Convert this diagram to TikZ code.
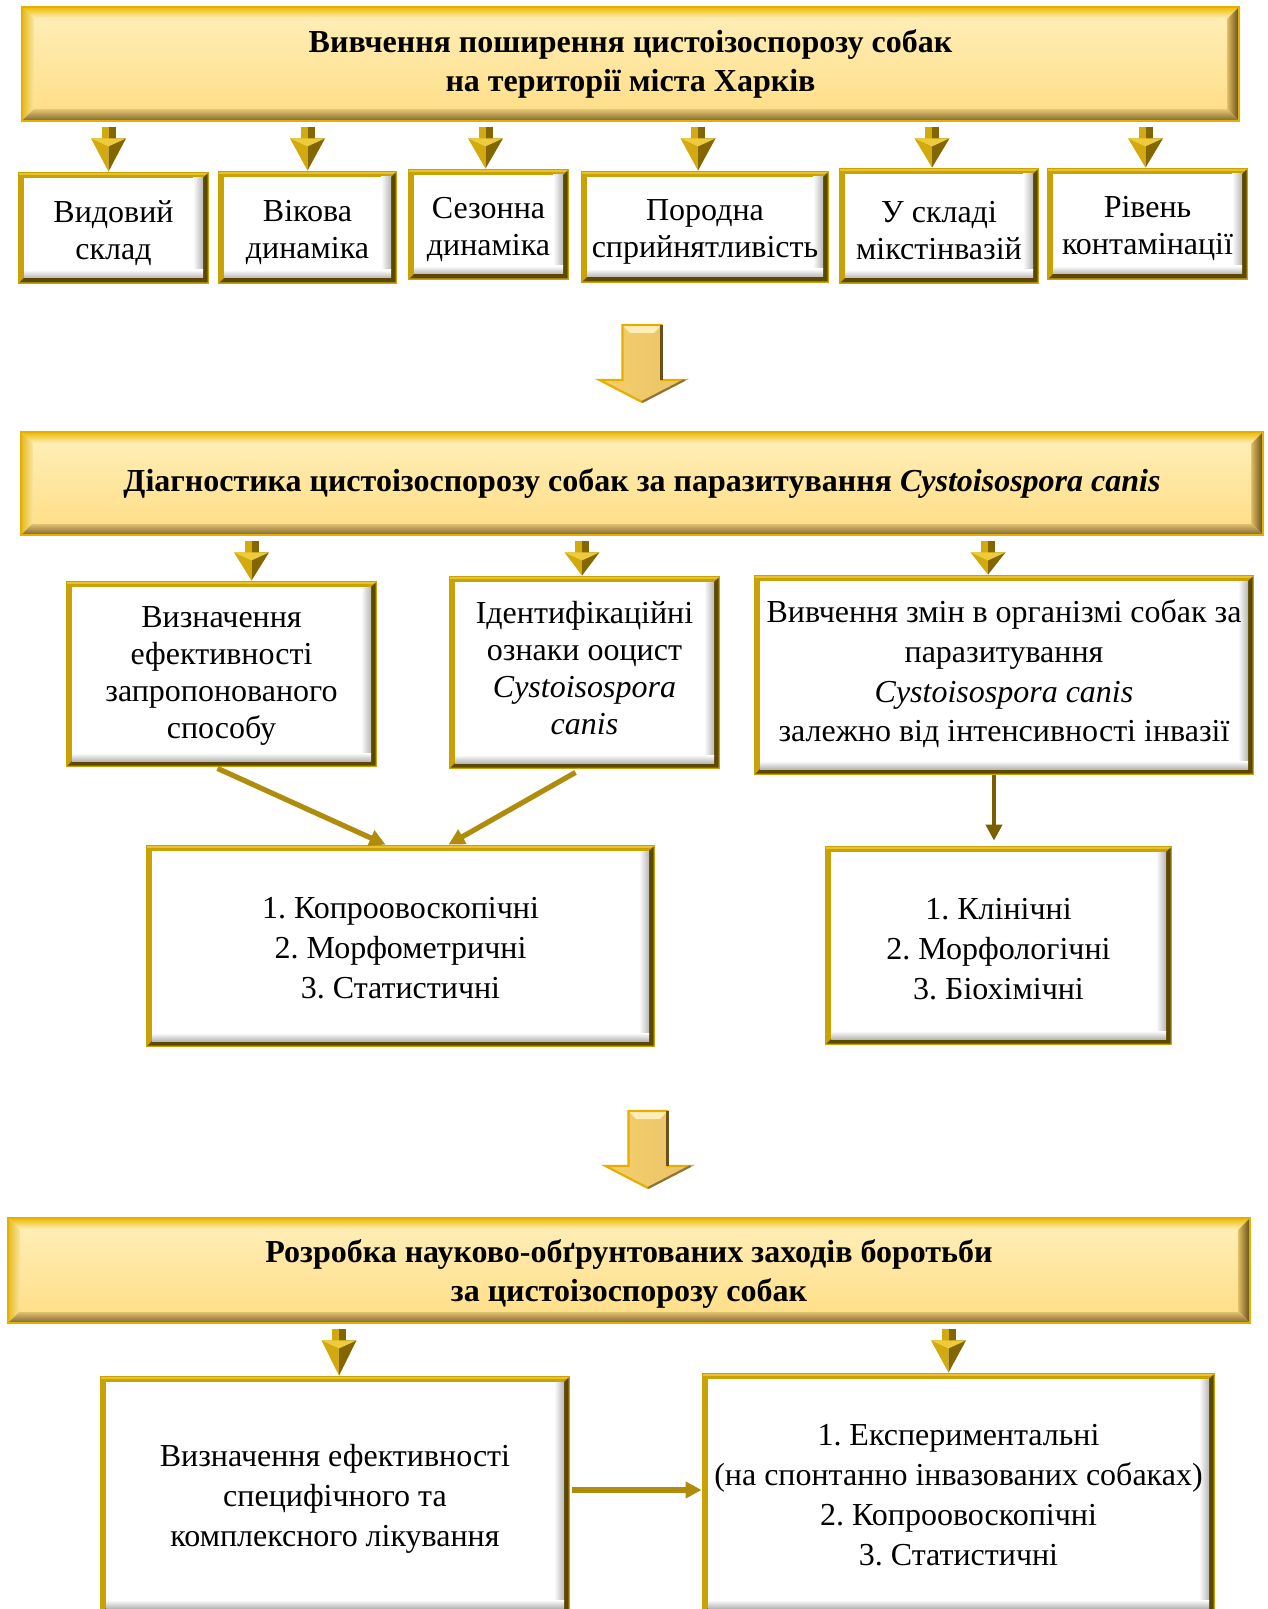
\documentclass[tikz,border=0pt]{standalone}
\usepackage{fontspec}
\setmainfont{Liberation Serif}
\usetikzlibrary{calc,fit,arrows.meta}
% frame colours
\definecolor{gA}{HTML}{C9A206}
\definecolor{gD}{HTML}{5E4800}
\definecolor{gL}{HTML}{E8C22A}
% banner colours
\definecolor{bnTopA}{HTML}{EDBA00}
\definecolor{bnTopB}{HTML}{FFF2C8}
\definecolor{bnLA}{HTML}{E6B81C}
\definecolor{bnLB}{HTML}{FBE6A2}
\definecolor{bnRA}{HTML}{5F4A18}
\definecolor{bnRB}{HTML}{E2BE62}
\definecolor{bnBA}{HTML}{7E6530}
\definecolor{bnBB}{HTML}{E7C877}
\definecolor{bnFA}{HTML}{FFEDB4}
\definecolor{bnFB}{HTML}{FFDF8A}
\definecolor{bnEdge}{HTML}{E3B000}
% small arrows
\definecolor{gaL}{HTML}{D2AA10}
\definecolor{gaD}{HTML}{846600}
\definecolor{gaH}{HTML}{EDCB3A}
% hollow arrows
\definecolor{haL}{HTML}{F6CF6A}
\definecolor{haM}{HTML}{FFEDBC}
\definecolor{haR}{HTML}{E9C36A}
\definecolor{haEdge}{HTML}{E5AE00}
\definecolor{haDark}{HTML}{6B5018}
% connectors
\definecolor{gC}{HTML}{B08C0C}
\definecolor{gCd}{HTML}{7A5E00}
\def\bskip{19.5}
\tikzset{
  wtext/.style={inner sep=0pt, align=center, font=\fontsize{16}{\bskip}\selectfont},
  btext/.style={inner sep=0pt, align=center, font=\fontsize{16}{19.5}\selectfont\bfseries},
  frame/.style={inner sep=0pt},
  conn/.style={draw=gC, line width=2.6pt, -{Triangle[length=8pt,width=8pt]}},
  connd/.style={draw=gCd, line width=2.4pt, -{Triangle[length=8pt,width=8pt]}},
}
% white box with bevelled gold frame: name, x1, y1, x2, y2, text shift, text
\newcommand\wbox[7]{%
  \fill[gA] (#2,#3) rectangle (#4,#5);
  \fill[gL] (#2+1,#3+1) rectangle (#4-1,#3+3);
  \fill[gD] (#4-1.5,#3+1.5) -- (#4-1.5,#5-1.5) -- (#2+1.5,#5-1.5) -- (#2+6,#5-6) -- (#4-6,#5-6) -- (#4-6,#3+6) -- cycle;
  \fill[white] (#2+6,#3+6) rectangle (#4-6,#5-6);
  \shade[left color=white, right color=black!28] (#4-16,#3+6) rectangle (#4-6,#5-14);
  \shade[top color=white, bottom color=black!28] (#2+6,#5-14) rectangle (#4-6,#5-6);
  \node[frame, fit={(#2,#3) (#4,#5)}] (#1) {};
  \node[wtext] (#1-t) at ($(#1.center)+(0,#6)$) {#7};
}
% yellow bevelled banner: name, x1, y1, x2, y2, text shift, text
\newcommand\banner[7]{%
  \fill[bnFB] (#2,#3) rectangle (#4,#5);
  \shade[top color=bnTopA, bottom color=bnTopB] (#2,#3) -- (#4,#3) -- (#4-12,#3+12) -- (#2+12,#3+12) -- cycle;
  \shade[left color=bnLA, right color=bnLB] (#2,#3) -- (#2+12,#3+12) -- (#2+12,#5-12) -- (#2,#5) -- cycle;
  \shade[left color=bnRB, right color=bnRA] (#4,#3) -- (#4,#5) -- (#4-12,#5-12) -- (#4-12,#3+12) -- cycle;
  \shade[top color=bnBB, bottom color=bnBA] (#2,#5) -- (#4,#5) -- (#4-12,#5-12) -- (#2+12,#5-12) -- cycle;
  \shade[top color=bnFA, bottom color=bnFB] (#2+12,#3+12) rectangle (#4-12,#5-12);
  \draw[bnEdge, line width=0.8pt] (#2,#3) rectangle (#4,#5);
  \node[frame, fit={(#2,#3) (#4,#5)}] (#1) {};
  \node[btext] (#1-t) at ($(#1.center)+(0,#6)$) {#7};
}
% small gold 3D arrow: target node, x offset, source node
\newcommand\garrow[3]{%
  \coordinate (ga-e) at ($(#1.north)+(#2,0)$);
  \path (ga-e |- #3.south) coordinate (ga-t);
  \coordinate (ga-s) at ($(ga-t)+(0,6)$);
  \fill[gaL] ($(ga-s)+(-7,0)$) rectangle ($(ga-s)+(0,12)$);
  \fill[gaD] (ga-s) rectangle ($(ga-s)+(7,12)$);
  \fill[gaL] ($(ga-s)+(-17.5,11)$) -- ($(ga-s)+(0,11)$) -- (ga-e) -- cycle;
  \fill[gaD] ($(ga-s)+(0,11)$) -- ($(ga-s)+(17.5,11)$) -- (ga-e) -- cycle;
  \fill[gaH] ($(ga-s)+(-17.5,11)$) -- ($(ga-s)+(17.5,11)$) -- ($(ga-s)+(0,19)$) -- cycle;
}
% large hollow arrow: name, x, y (top centre)
\newcommand\bigarrow[3]{%
  \coordinate (#1) at (#2,#3);
  \begin{scope}[shift={(#1)}]
    \shade[left color=haL, middle color=haM, right color=haR]
      (-19.5,0) -- (19.5,0) -- (19.5,55) -- (42.5,55) -- (0,77) -- (-42.5,55) -- (-19.5,55) -- cycle;
    \fill[haM] (-19.5,0) -- (19.5,0) -- (12,8) -- (-12,8) -- cycle;
    \draw[haEdge, line width=1.1pt, line join=miter]
      (-19.5,0) -- (19.5,0) -- (19.5,55) -- (42.5,55) -- (0,77) -- (-42.5,55) -- (-19.5,55) -- cycle;
    \draw[haDark, line width=1.2pt] (19.5,0) -- (19.5,55);
    \draw[haDark!80, line width=1pt] (42.5,55) -- (0,77);
  \end{scope}
}
\begin{document}
\frenchspacing
\begin{tikzpicture}[x=0.5pt,y=-0.5pt]
\useasboundingbox (0,0) rectangle (1267,1609);
\fill[white] (0,0) rectangle (1267,1609);
\clip (0,0) rectangle (1267,1609);

% ---------- section 1 ----------
\banner{ban1}{22}{7}{1239}{121}{0}{Вивчення поширення цистоізоспорозу собак\\на території міста Харків}
\def\bskip{18.5}
\wbox{s1}{18}{172}{209}{284}{5}{Видовий\\склад}
\wbox{s2}{218}{171}{397}{284}{5}{Вікова\\динаміка}
\wbox{s3}{408}{169}{569}{280}{5}{Сезонна\\динаміка}
\wbox{s4}{581}{171}{829}{283}{5}{Породна\\сприйнятливість}
\wbox{s5}{839}{168}{1039}{284}{5}{У складі\\мікстінвазій}
\wbox{s6}{1047}{168}{1248}{280}{5}{Рівень\\контамінації}
\garrow{s1}{-5}{ban1}
\garrow{s2}{0}{ban1}
\garrow{s3}{-3}{ban1}
\garrow{s4}{-7}{ban1}
\garrow{s5}{-7}{ban1}
\garrow{s6}{-2}{ban1}

\bigarrow{bigA}{642}{325}

% ---------- section 2 ----------
\banner{ban2}{21}{432}{1263}{535}{0}{Діагностика цистоізоспорозу собак за паразитування \textit{Cystoisospora canis}}
\wbox{mA}{66}{581}{377}{767}{2}{Визначення\\ефективності\\запропонованого\\способу}
\wbox{mB}{449}{576}{720}{769}{-4}{Ідентифікаційні\\ознаки ооцист\\\textit{Cystoisospora}\\\textit{canis}}
\def\bskip{19.8}
\wbox{mC}{754}{575}{1254}{775}{-1}{Вивчення змін в організмі собак за\\паразитування\\\textit{Cystoisospora canis}\\залежно від інтенсивності інвазії}
\garrow{mA}{30}{ban2}
\garrow{mB}{-2.5}{ban2}
\garrow{mC}{-16}{ban2}

\def\bskip{20}
\wbox{mD}{146}{845}{655}{1047}{2}{1. Копроовоскопічні\\2. Морфометричні\\3. Статистичні}
\wbox{mE}{825}{846}{1172}{1045}{3.5}{1. Клінічні\\2. Морфологічні\\3. Біохімічні}

\draw[conn] ($(mA.south)+(-4,1)$) -- ($(mD.north)+(-15,0)$);
\draw[conn] ($(mB.south)+(-9,3)$) -- ($(mD.north)+(48,0)$);
\coordinate (vc1) at ($(mC.south)+(-10,0)$);
\path (vc1 |- mE.north) coordinate (vc2);
\draw[connd] (vc1) -- ($(vc2)+(0,-5)$);

\bigarrow{bigB}{648}{1111}

% ---------- section 3 ----------
\banner{ban3}{8}{1218}{1250}{1323}{3}{Розробка науково-обґрунтованих заходів боротьби\\за цистоізоспорозу собак}
\wbox{bL}{100}{1376}{570}{1614}{3.5}{Визначення ефективності\\специфічного та\\комплексного лікування}
\wbox{bR}{702}{1373}{1215}{1614}{1.5}{1. Експериментальні\\(на спонтанно інвазованих собаках)\\2. Копроовоскопічні\\3. Статистичні}
\garrow{bL}{4}{ban3}
\garrow{bR}{-10}{ban3}
\coordinate (hb1) at ($(bL.east)+(2,-5)$);
\draw[conn] (hb1) -- (hb1 -| bR.west);
\end{tikzpicture}
\end{document}
